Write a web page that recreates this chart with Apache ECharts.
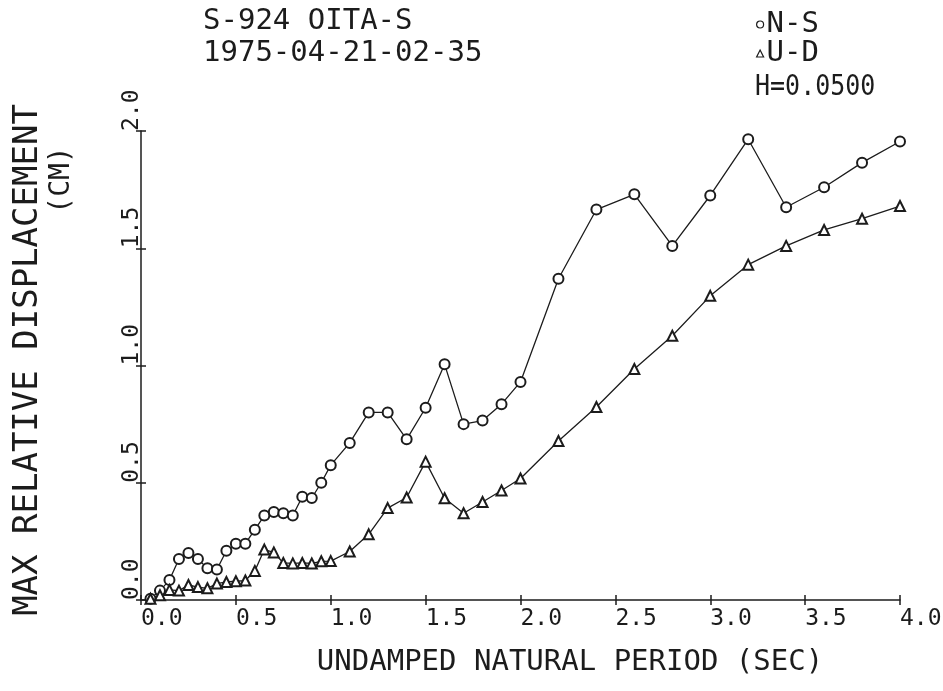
<!DOCTYPE html>
<html><head><meta charset="utf-8">
<script src="https://cdn.jsdelivr.net/npm/echarts@6/dist/echarts.min.js"></script>
<style>html,body{margin:0;padding:0;background:#fff}#c{width:943px;height:691px}</style>
</head><body><div id="c"></div>
<script>
// Periods (sec)
const periods = [0.05,0.10,0.15,0.20,0.25,0.30,0.35,0.40,0.45,0.50,0.55,0.60,0.65,0.70,0.75,0.80,0.85,0.90,0.95,1.00,
  1.1,1.2,1.3,1.4,1.5,1.6,1.7,1.8,1.9,2.0,
  2.2,2.4,2.6,2.8,3.0,3.2,3.4,3.6,3.8,4.0];
// N-S (circles), cm
const nsValues = [0.005,0.04,0.085,0.175,0.20,0.175,0.135,0.13,0.21,0.24,0.24,0.30,0.36,0.375,0.37,0.36,0.44,0.435,0.50,0.575,
  0.67,0.80,0.80,0.685,0.82,1.005,0.75,0.765,0.835,0.93,
  1.37,1.665,1.73,1.51,1.725,1.965,1.675,1.76,1.865,1.955];
// U-D (triangles), cm
const udValues = [0.005,0.02,0.043,0.04,0.064,0.055,0.05,0.07,0.077,0.08,0.083,0.124,0.215,0.203,0.158,0.156,0.158,0.156,0.165,0.166,
  0.207,0.28,0.392,0.437,0.59,0.434,0.37,0.418,0.467,0.518,
  0.678,0.823,0.985,1.127,1.297,1.43,1.51,1.578,1.626,1.68];
const xTickLabels = ['0.0','0.5','1.0','1.5','2.0','2.5','3.0','3.5','4.0'];
const yTickLabels = ['0.0','0.5','1.0','1.5','2.0'];

const FONT = "'DejaVu Sans Mono', 'Liberation Mono', monospace";
const INK = '#1c1c1c';

const chart = echarts.init(document.getElementById('c'), null, {renderer:'canvas'});
const pairs = v => periods.map((p,i)=>[p, v[i]]);

const gridL = 141, gridR = 43, gridT = 131, gridB = 91;

chart.setOption({
  backgroundColor:'#fff',
  animation:false,
  grid:{left:gridL, right:gridR, top:gridT, bottom:gridB, containLabel:false, outerBoundsMode:'none'},
  legend:{
    orient:'vertical', left:751, top:5, itemGap:0, itemWidth:7, itemHeight:7,
    textStyle:{fontFamily:FONT, fontSize:29, color:INK, padding:[0,0,0,-2]},
    data:[{name:'N-S', icon:'circle'},{name:'U-D', icon:'triangle'}],
    itemStyle:{color:'#fff', borderColor:INK, borderWidth:1.2}
  },
  xAxis:[{
    type:'value', min:0, max:4, interval:0.5,
    axisLine:{onZero:false, lineStyle:{color:INK, width:1.5}},
    axisTick:{length:5, lineStyle:{color:INK, width:1.5}},
    axisLabel:{formatter:v=>xTickLabels[Math.round(v/0.5)], align:'left', margin:8,
      fontFamily:FONT, fontSize:23, color:INK},
    splitLine:{show:false}
  },{
    type:'value', min:0, max:4, interval:0.5, position:'bottom',
    axisLine:{show:false}, axisLabel:{show:false}, splitLine:{show:false},
    axisTick:{inside:true, length:5, lineStyle:{color:INK, width:1.5}}
  }],
  yAxis:[{
    type:'value', min:0, max:2, interval:0.5,
    axisLine:{onZero:false, lineStyle:{color:INK, width:1.5}},
    axisTick:{length:5, lineStyle:{color:INK, width:1.5}},
    axisLabel:{formatter:v=>yTickLabels[Math.round(v/0.5)], rotate:90, align:'left', verticalAlign:'bottom', margin:-3,
      fontFamily:FONT, fontSize:23, color:INK},
    splitLine:{show:false}
  },{
    type:'value', min:0, max:2, interval:0.5, position:'left',
    axisLine:{show:false}, axisLabel:{show:false}, splitLine:{show:false},
    axisTick:{inside:true, length:5, lineStyle:{color:INK, width:1.5}}
  }],
  series:[{
    name:'N-S', type:'line', data:pairs(nsValues),
    symbol:'emptyCircle', symbolSize:10,
    lineStyle:{color:INK, width:1.3}, itemStyle:{color:INK, borderWidth:1.3}
  },{
    name:'U-D', type:'line', data:pairs(udValues),
    symbol:'emptyTriangle', symbolSize:10,
    lineStyle:{color:INK, width:1.3}, itemStyle:{color:INK, borderWidth:1.3}
  }],
  graphic:[
    {type:'text', left:203, top:7, style:{text:'S-924 OITA-S', font:"29px 'DejaVu Sans Mono'", fill:INK}},
    {type:'text', left:203, top:39, style:{text:'1975-04-21-02-35', font:"29px 'DejaVu Sans Mono'", fill:INK}},
    {type:'text', x:755, y:88, scaleY:1.15, style:{text:'H=0.0500', font:"25px 'DejaVu Sans Mono'", fill:INK, verticalAlign:'middle'}},
    {type:'text', x:570, y:662, style:{text:'UNDAMPED NATURAL PERIOD (SEC)', font:"29px 'DejaVu Sans Mono'", fill:INK, align:'center', verticalAlign:'middle'}},
    {type:'text', x:28, y:360, rotation:Math.PI/2, style:{text:'MAX RELATIVE DISPLACEMENT', font:"34px 'DejaVu Sans Mono'", fill:INK, align:'center', verticalAlign:'middle'}},
    {type:'text', x:62, y:180, rotation:Math.PI/2, style:{text:'(CM)', font:"28px 'DejaVu Sans Mono'", fill:INK, align:'center', verticalAlign:'middle'}}
  ]
});
</script></body></html>
